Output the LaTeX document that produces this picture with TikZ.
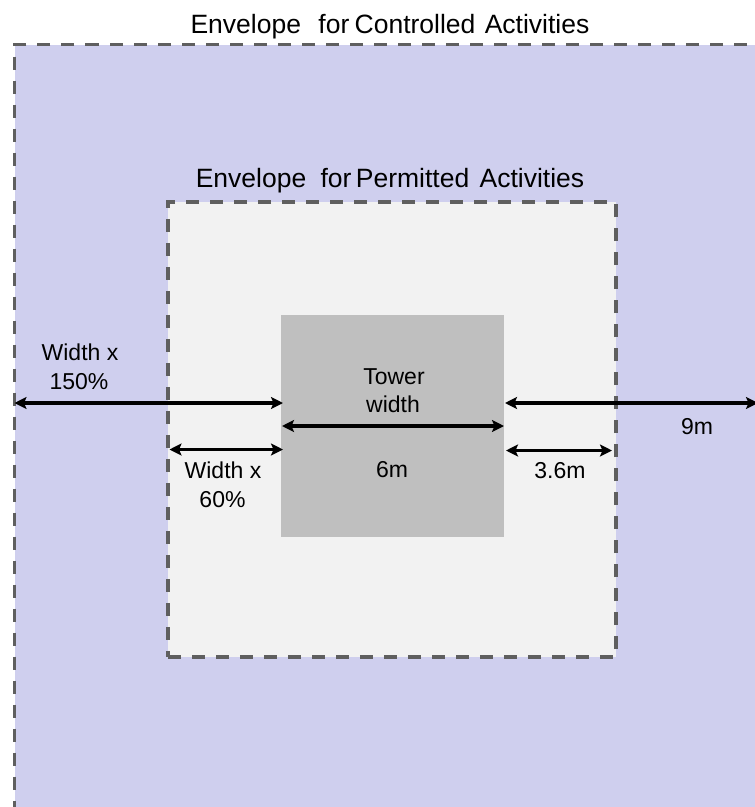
\documentclass[tikz,border=0pt]{standalone}
\usepackage{fontspec}
\setmainfont{Liberation Sans}
\usetikzlibrary{arrows.meta,calc}
\definecolor{ctrlfill}{HTML}{CFCFEE}
\definecolor{permfill}{HTML}{F2F2F2}
\definecolor{towerfill}{HTML}{BFBFBF}
\definecolor{edgegray}{HTML}{5F5F5F}

\begin{document}
\begin{tikzpicture}[x=1pt,y=-1pt,
  zone/.style={draw=edgegray, line width=3.5pt, dash pattern=on 13pt off 11pt,
    rectangle, inner sep=0pt, outer sep=0pt},
  towerbox/.style={rectangle, fill=towerfill, inner sep=0pt, outer sep=0pt,
    minimum width=223pt, minimum height=222pt},
  title/.style={font=\fontsize{26.5}{30}\selectfont, inner sep=0pt, anchor=base},
  lbl/.style={font=\fontsize{23}{28.5}\selectfont, inner sep=0pt, anchor=base},
  tip/.tip={Stealth[length=12pt,width=12pt,inset=2.5pt]},
  dim/.style={draw=black, line width=3.2pt, tip-tip}
]
\useasboundingbox (0,0) rectangle (755,807);
\clip (0,0) rectangle (755,807);

% envelope for controlled activities (runs past the page edge)
\node[zone, fill=ctrlfill, minimum width=900pt, minimum height=900pt,
      anchor=north west] (ctrl) at (14.5,44.5) {};
\node[title] (ctrltitle) at (390,33)
  {Envelope\hspace{10pt} for\hspace{-2pt} Controlled\hspace{2pt} Activities};

% envelope for permitted activities
\node[zone, fill=permfill, minimum width=448pt, minimum height=455pt] (perm) at (392,429.5) {};
\node[title] (permtitle) at (390,187)
  {Envelope\hspace{7pt} for\hspace{-3pt} Permitted\hspace{3pt} Activities};

% tower footprint
\node[towerbox] (tower) at (392.5,426) {};

% rows of the dimension arrows
\coordinate (rowA) at (0,403);
\coordinate (rowB) at (0,426);
\coordinate (rowC) at (0,449.5);
\coordinate (rowD) at (0,450.5);
\coordinate (edge) at (758,403);

\draw[dim] (ctrl.west |- rowA) -- ([xshift=2pt]tower.west |- rowA);
\draw[dim] ([xshift=1pt]tower.east |- rowA) -- (edge);
\draw[dim] ([xshift=1pt]tower.west |- rowB) -- (tower.east |- rowB);
\draw[dim] ([xshift=1.5pt]perm.west |- rowC) -- ([xshift=2pt]tower.west |- rowC);
\draw[dim] ([xshift=2pt]tower.east |- rowD) -- ([xshift=-4pt]perm.east |- rowD);

% labels
\node[lbl] (l150a) at (80,360) {Width x};
\node[lbl] (l150b) at (79,389) {150\%};
\node[lbl] (ltowera) at (394,384) {Tower};
\node[lbl] (ltowerb) at (393,412.5) {width};
\node[lbl] (l6) at (392,477) {6m};
\node[lbl] (l60a) at (223,478) {Width x};
\node[lbl] (l60b) at (222.5,507) {60\%};
\node[lbl] (l36) at (560,478) {3.6m};
\node[lbl] (l9) at (697,434) {9m};
\end{tikzpicture}
\end{document}
